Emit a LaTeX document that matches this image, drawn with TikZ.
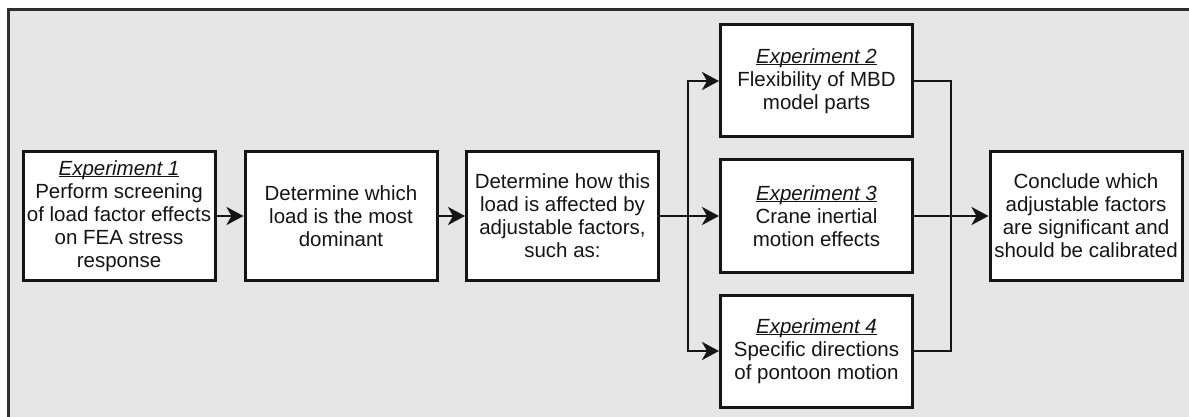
\documentclass[tikz,border=0pt]{standalone}
\usepackage{fontspec}
\setmainfont{Liberation Sans}
\usetikzlibrary{arrows.meta}
\definecolor{panel}{HTML}{E6E6E6}
\definecolor{ink}{HTML}{151515}
\definecolor{framecol}{HTML}{2E2E2E}
% italic heading with a thin rule just under the baseline
\newsavebox\ttlbox
\newcommand{\exptitle}[1]{\sbox\ttlbox{\textit{#1}}\rlap{\usebox\ttlbox}\rule[-2pt]{\wd\ttlbox}{1.3pt}}
\begin{document}
\begin{tikzpicture}[x=1pt,y=-1pt,
  stepbox/.style={draw=ink, fill=white, line width=3pt, align=center,
    inner sep=0pt, minimum width=192pt, minimum height=128pt, text=ink,
    font=\fontsize{20.5}{23}\selectfont},
  expbox/.style={stepbox, minimum height=112pt},
  flow/.style={draw=ink, line width=2.8pt,
    -{Stealth[length=17pt, width=18pt, inset=5pt]}},
  wire/.style={draw=ink, line width=2.8pt}]
  \useasboundingbox (0,0) rectangle (1189,417);
  \clip (0,0) rectangle (1189,417);
  % grey panel with its frame (runs off the right and bottom)
  \draw[framecol, fill=panel, line width=3pt] (8.5,9.5) rectangle (1220,440);

  % main chain
  \node[stepbox] (s1) at (119,216) {\exptitle{Experiment 1}\\Perform screening\\of load factor effects\\on FEA stress\\response};
  \node[stepbox] (s2) at (341,216) {Determine which\\load is the most\\dominant};
  \node[stepbox] (s3) at (562.5,216) {Determine how this\\load is affected by\\adjustable factors,\\such as:};
  \node[expbox] (e2) at (816.5,81) {\exptitle{Experiment 2}\\Flexibility of MBD\\model parts};
  \node[expbox] (e3) at (816.5,216) {\exptitle{Experiment 3}\\Crane inertial\\motion effects};
  \node[expbox] (e4) at (816.5,351) {\exptitle{Experiment 4}\\Specific directions\\of pontoon motion};
  \node[stepbox] (fin) at (1086,216) {Conclude which\\adjustable factors\\are significant and\\should be calibrated};

  \coordinate (split) at (688,216);
  \coordinate (merge) at (951,216);

  \draw[flow] (s1) -- (s2);
  \draw[flow] (s2) -- (s3);
  \draw[wire] (s3.east) -- (split);
  \draw[flow] (split) |- (e2.west);
  \draw[flow] (split) -- (e3.west);
  \draw[flow] (split) |- (e4.west);
  \draw[wire] (e2.east) -| (merge);
  \draw[wire] (e4.east) -| (merge);
  \draw[wire] (e3.east) -- (merge);
  \draw[flow] (merge) -- (fin.west);
\end{tikzpicture}
\end{document}
